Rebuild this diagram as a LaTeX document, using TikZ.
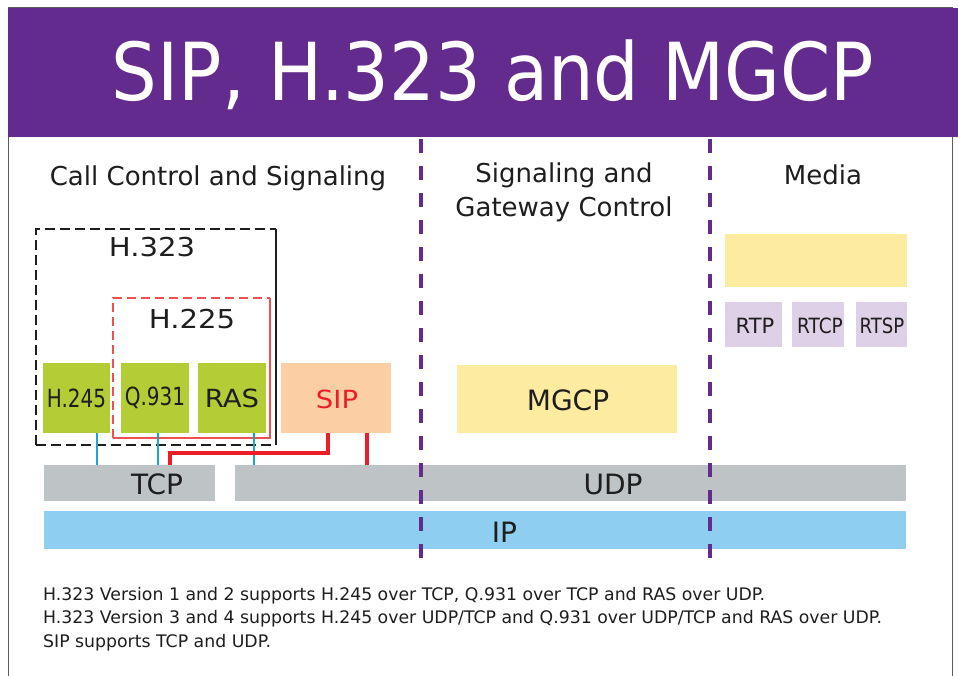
\documentclass[tikz,border=0pt]{standalone}
\usepackage{fontspec}
\setmainfont{DejaVu Sans}
\usepackage{graphicx}
\definecolor{purp}{RGB}{99,43,141}
\definecolor{grn}{RGB}{180,205,55}
\definecolor{peach}{RGB}{251,207,163}
\definecolor{grayb}{RGB}{190,196,198}
\definecolor{ipblue}{RGB}{142,206,240}
\definecolor{yel}{RGB}{253,236,160}
\definecolor{lav}{RGB}{222,208,230}
\definecolor{cyanl}{RGB}{30,165,205}
\definecolor{redl}{RGB}{235,30,40}
\definecolor{redd}{RGB}{240,80,80}
\definecolor{txt}{RGB}{30,30,30}
\definecolor{framec}{RGB}{90,90,90}
\tikzset{
  blk/.style={rectangle, inner sep=0pt, draw=none},
  lbl/.style={inner sep=0pt, text=txt},
  head/.style={lbl, anchor=base, font=\fontsize{26}{26}\selectfont},
  big/.style={lbl, font=\fontsize{28}{28}\selectfont},
  gtxt/.style={lbl, font=\fontsize{25}{25}\selectfont},
  rtxt/.style={lbl, font=\fontsize{21}{21}\selectfont},
  note/.style={lbl, anchor=base west, font=\fontsize{17.3}{17.3}\selectfont},
  cyline/.style={draw=cyanl, line width=2pt},
  redline/.style={draw=redl, line width=4pt},
  divider/.style={draw=purp, line width=4pt, dash pattern=on 14pt off 13pt},
}
\begin{document}
\begin{tikzpicture}[x=1pt,y=-1pt]
\useasboundingbox (0,0) rectangle (958,676);
\fill[white] (0,0) rectangle (958,676);
% frame and title band
\draw[framec, line width=1pt] (8.5,7.5) rectangle (952,700);
\fill[purp] (8,8) rectangle (958,137);
\node[anchor=base, inner sep=0pt, text=white, font=\fontsize{80}{80}\selectfont] (title) at (493,101) {\scalebox{0.9}[1]{SIP, H.323 and MGCP}};

% column dividers
\coordinate (d1t) at (421,139);
\coordinate (d1b) at (421,562);
\coordinate (d2t) at (710,139);
\coordinate (d2b) at (710,562);

% headings
\node[head] (hcall) at (218,186) {Call Control and Signaling};
\node[head] (hsig1) at (564,183) {Signaling and};
\node[head] (hsig2) at (564,217) {Gateway Control};
\node[head] (hmedia) at (823,185) {Media};

% H.323 and H.225 frames
\draw[draw=txt, line width=2pt, dash pattern=on 10pt off 5pt] (36,445) -- (36,229) -- (276,229);
\draw[draw=txt, line width=2pt, dash pattern=on 10pt off 5pt] (36,445) -- (276,445);
\draw[draw=txt, line width=2pt] (276,229) -- (276,445);
\node[lbl, font=\fontsize{26}{26}\selectfont] (h323) at (152,247.5) {\scalebox{1.12}[1]{H.323}};
\draw[draw=redd, line width=1.3pt, dash pattern=on 9pt off 5pt] (113,438) -- (113,298) -- (270,298);
\draw[draw=redd, line width=1.3pt] (270,298) -- (270,438) -- (113,438);
\node[lbl, font=\fontsize{26}{26}\selectfont] (h225) at (192,319) {\scalebox{1.12}[1]{H.225}};

% protocol boxes
\node[blk, fill=grn, minimum width=67pt, minimum height=70pt] (h245) at (76.5,398) {};
\node[gtxt] at (h245.center) {\scalebox{0.8}[1]{H.245}};
\node[blk, fill=grn, minimum width=68pt, minimum height=70pt] (q931) at (155,398) {};
\node[gtxt] at (q931.center) {\scalebox{0.8}[1]{Q.931}};
\node[blk, fill=grn, minimum width=68pt, minimum height=70pt] (ras) at (232,398) {};
\node[gtxt] at (ras.center) {\scalebox{1.1}[1]{RAS}};
\node[blk, fill=peach, minimum width=110pt, minimum height=70pt] (sip) at (336,398) {};
\node[gtxt, text=redl] at (337,399) {\scalebox{1.1}[1]{SIP}};
\node[blk, fill=yel, minimum width=220pt, minimum height=68pt] (mgcp) at (567,399) {};
\node[big] at (568,400) {MGCP};

% media
\node[blk, fill=yel, minimum width=182pt, minimum height=53pt] (media) at (816,260.5) {};
\node[blk, fill=lav, minimum width=57pt, minimum height=45pt] (rtp) at (753.5,324.5) {};
\node[rtxt] at (755,326) {RTP};
\node[blk, fill=lav, minimum width=52pt, minimum height=45pt] (rtcp) at (818,324.5) {};
\node[rtxt] at (820,326) {\scalebox{0.88}[1]{RTCP}};
\node[blk, fill=lav, minimum width=51pt, minimum height=45pt] (rtsp) at (881.5,324.5) {};
\node[rtxt] at (882,326) {\scalebox{0.86}[1]{RTSP}};

% transport layers
\node[blk, fill=grayb, minimum width=171pt, minimum height=36pt] (tcp) at (129.5,483) {};
\node[big] (tcplbl) at (157,484) {TCP};
\node[blk, fill=grayb, minimum width=671pt, minimum height=36pt] (udp) at (570.5,483) {};
\node[big] (udplbl) at (613,484) {UDP};
\node[blk, fill=ipblue, minimum width=862pt, minimum height=38pt] (ip) at (475,530) {};
\node[big] (iplbl) at (504.5,532) {IP};

% dividers over bars
\draw[divider] (d1t) -- (d1b);
\draw[divider] (d2t) -- (d2b);

% connectors
\draw[cyline] ([xshift=20.5pt]h245.south) -- ([xshift=20.5pt]h245.south |- tcp.north);
\draw[cyline] ([xshift=3pt]q931.south) -- ([xshift=3pt]q931.south |- tcp.north);
\draw[cyline] ([xshift=22pt]ras.south) -- ([xshift=22pt]ras.south |- udp.north);
\coordinate (bend) at (328,453);
\draw[redline] ([xshift=-8pt]sip.south) -- (bend) -| ([xshift=40.5pt]tcp.north);
\draw[redline] ([xshift=31pt]sip.south) -- ([xshift=31pt]sip.south |- udp.north);

% notes
\node[note] (note1) at (43,600) {H.323 Version 1 and 2 supports H.245 over TCP, Q.931 over TCP and RAS over UDP.};
\node[note] (note2) at (43,623.5) {H.323 Version 3 and 4 supports H.245 over UDP/TCP and Q.931 over UDP/TCP and RAS over UDP.};
\node[note] (note3) at (43,647) {SIP supports TCP and UDP.};
\end{tikzpicture}
\end{document}
